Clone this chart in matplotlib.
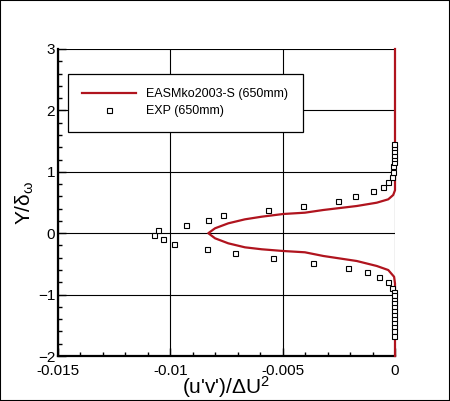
import matplotlib
matplotlib.use("Agg")
import matplotlib.pyplot as plt
from matplotlib.ticker import MultipleLocator
from matplotlib.patches import Rectangle

plt.rcParams['font.family'] = ['Liberation Sans', 'DejaVu Sans']
plt.rcParams['mathtext.fontset'] = 'custom'
plt.rcParams['mathtext.rm'] = 'Liberation Sans'
plt.rcParams['mathtext.it'] = 'Liberation Sans'

# EASM model curve
model_y = [3.0, 1.5, 0.9, 0.70, 0.622, 0.552, 0.497, 0.443, 0.378, 0.334, 0.313, 0.269,
           0.226, 0.161, 0.080, 0.0, -0.083, -0.165, -0.23, -0.262, -0.29, -0.311,
           -0.371, -0.453, -0.534, -0.60, -0.71, -0.82, -1.2, -2.0]
model_x = [0.0, 0.0, 0.0, 0.0, -0.00008, -0.00030, -0.00081, -0.00170, -0.00319, -0.00401,
           -0.00497, -0.00593, -0.00668, -0.00742, -0.00801, -0.00831, -0.00801, -0.00742,
           -0.00668, -0.00593, -0.00497, -0.00401, -0.00319, -0.00170, -0.00081, -0.00030,
           -0.00004, 0.0, 0.0, 0.0]

# experiment
exp_x = [-0.01071, -0.01053, -0.01034, -0.00982, -0.00932, -0.00835, -0.00831, -0.00764,
         -0.00711, -0.00564, -0.00542, -0.00408, -0.00364, -0.00252, -0.00208, -0.00177,
         -0.00123, -0.00096, -0.00070, -0.00052, -0.00030, -0.00030, -0.00015, -0.00012,
         -0.00010, -0.00007,
         -0.00004, -0.00004, -0.00004, -0.00004, -0.00004, -0.00004,
         -0.00004, -0.00004, -0.00004, -0.00004, -0.00004, -0.00004,
         -0.00004, -0.00004, -0.00004, -0.00004, -0.00004, -0.00004]
exp_y = [-0.03, 0.06, -0.10, -0.17, 0.14, -0.25, 0.22, 0.29, -0.33, 0.37, -0.41, 0.45,
         -0.49, 0.53, -0.56, 0.61, -0.64, 0.68, -0.72, 0.76, 0.84, -0.80, 0.92, -0.89,
         1.00, 1.09,
         1.16, 1.22, 1.28, 1.34, 1.40, 1.46,
         -0.95, -1.01, -1.08, -1.14, -1.21, -1.27, -1.34, -1.40, -1.47, -1.53, -1.60, -1.67]

fig = plt.figure(figsize=(4.5, 4.01), dpi=100)
ax = fig.add_axes([58/450, 45/401, 337/450, 307/401])

ax.grid(True, color='black', linewidth=0.8)
ax.set_axisbelow(True)
ax.plot(model_x, model_y, color='#b0141e', linewidth=1.6, label='EASMko2003-S (650mm)',
        zorder=3, clip_on=False)
ax.plot(exp_x, exp_y, 's', markersize=3.6, markerfacecolor='white', markeredgecolor='black',
        markeredgewidth=0.8, label='EXP (650mm)', zorder=4, clip_on=False)

ax.set_xlim(-0.015, 0)
ax.set_ylim(-2, 3)
ax.xaxis.set_minor_locator(MultipleLocator(0.001))
ax.yaxis.set_major_locator(MultipleLocator(1))
ax.yaxis.set_minor_locator(MultipleLocator(0.2))
ax.set_xticks([-0.015, -0.01, -0.005, 0])
ax.set_xticklabels(['-0.015', '-0.01', '-0.005', '0'])
ax.tick_params(which='both', direction='in', top=False, right=False, labelsize=11, width=1)
ax.tick_params(which='major', length=6)
ax.tick_params(axis='x', which='major', pad=6)
ax.tick_params(axis='y', which='major', pad=2)
ax.tick_params(which='minor', length=3)
ax.spines['top'].set_visible(False)
ax.spines['right'].set_visible(False)
ax.spines['left'].set_linewidth(1.6)
ax.spines['bottom'].set_linewidth(1.6)

ax.set_xlabel("(u'v')/ΔU$^2$", fontsize=15, labelpad=-3)
ax.set_ylabel("Y/δ$_ω$", fontsize=15, labelpad=1)

leg = ax.legend(loc='upper left', bbox_to_anchor=(10/337, 1 - 25/307), fontsize=9.0,
                frameon=True, fancybox=False, edgecolor='black', framealpha=1,
                handlelength=4.3, borderpad=1.15, labelspacing=0.4, handletextpad=0.8,
                borderaxespad=0)
leg.get_frame().set_linewidth(0.9)

fig.patches.append(Rectangle((0, 0), 1, 1, transform=fig.transFigure, fill=False,
                             edgecolor='black', linewidth=1.5))

fig.savefig('out.png', dpi=100)
